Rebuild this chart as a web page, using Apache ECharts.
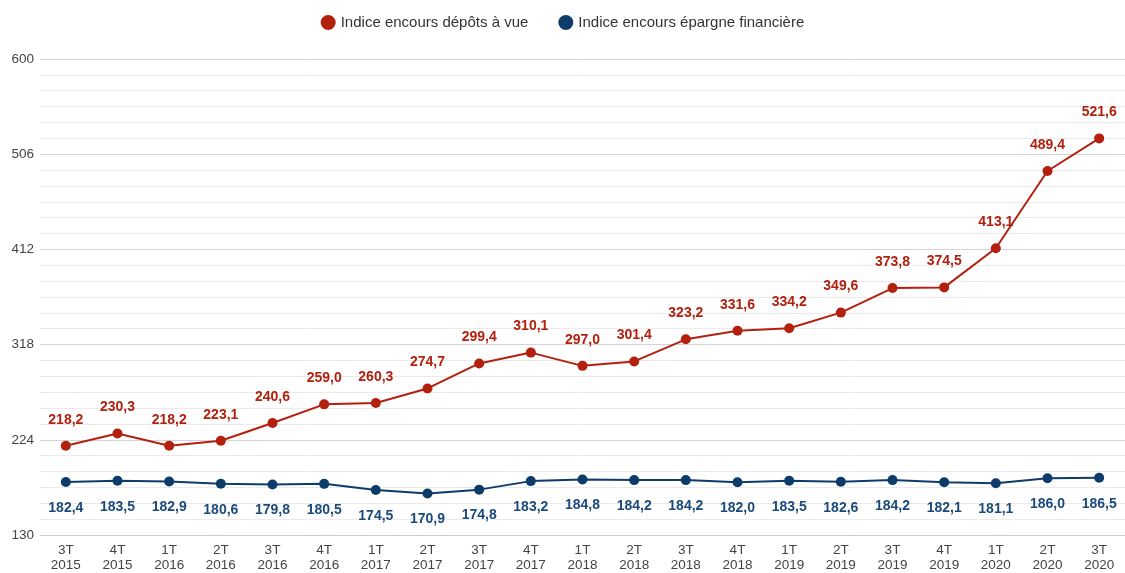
<!DOCTYPE html>
<html><head><meta charset="utf-8">
<script src="https://cdn.jsdelivr.net/npm/echarts@6/dist/echarts.min.js"></script>
<style>html,body{margin:0;padding:0;background:#fff}#c{width:1125px;height:573px}</style>
</head><body><div id="c"></div>
<script>
const categories = ["3T\n2015","4T\n2015","1T\n2016","2T\n2016","3T\n2016","4T\n2016","1T\n2017","2T\n2017","3T\n2017","4T\n2017","1T\n2018","2T\n2018","3T\n2018","4T\n2018","1T\n2019","2T\n2019","3T\n2019","4T\n2019","1T\n2020","2T\n2020","3T\n2020"];
const depotsVue = [218.2,230.3,218.2,223.1,240.6,259.0,260.3,274.7,299.4,310.1,297.0,301.4,323.2,331.6,334.2,349.6,373.8,374.5,413.1,489.4,521.6];
const epargneFin = [182.4,183.5,182.9,180.6,179.8,180.5,174.5,170.9,174.8,183.2,184.8,184.2,184.2,182.0,183.5,182.6,184.2,182.1,181.1,186.0,186.5];
const seriesNames = ["Indice encours dépôts à vue","Indice encours épargne financière"];
const yMin = 130, yMax = 600, yStep = 94;

const fmt = p => p.value.toFixed(1).replace('.', ',');
const chart = echarts.init(document.getElementById('c'));
chart.setOption({
  animation:false,
  textStyle:{fontFamily:'Liberation Sans, Arial, sans-serif'},
  legend:{top:10,left:'center',itemWidth:15,itemHeight:15,itemGap:30,icon:'circle',
    textStyle:{fontSize:15,color:'#333'}},
  grid:{left:40,top:59,width:1089,height:480},
  xAxis:{type:'category',data:categories,boundaryGap:true,
    axisLine:{lineStyle:{color:'#ccc'}},axisTick:{show:false},
    axisLabel:{color:'#444',fontSize:13.5,lineHeight:15,margin:8}},
  yAxis:{type:'value',min:yMin,max:yMax,interval:yStep,
    axisLabel:{color:'#444',fontSize:13.5,margin:6},
    splitLine:{lineStyle:{color:'#d4d4d4'}},
    minorTick:{show:false,splitNumber:6},
    minorSplitLine:{show:true,lineStyle:{color:'#ebebeb'}}},
  series:[
    {name:seriesNames[0],type:'line',data:depotsVue,color:'#b3200e',
     symbol:'circle',symbolSize:10,lineStyle:{width:2},
     label:{show:true,position:'top',distance:14,formatter:fmt,color:'#b3200e',fontSize:14,fontWeight:'bold'}},
    {name:seriesNames[1],type:'line',data:epargneFin,color:'#0d3c6b',
     symbol:'circle',symbolSize:10,lineStyle:{width:2},
     label:{show:true,position:'bottom',distance:14,formatter:fmt,color:'#1b4a7a',fontSize:14,fontWeight:'bold'}}
  ]
});
</script></body></html>
